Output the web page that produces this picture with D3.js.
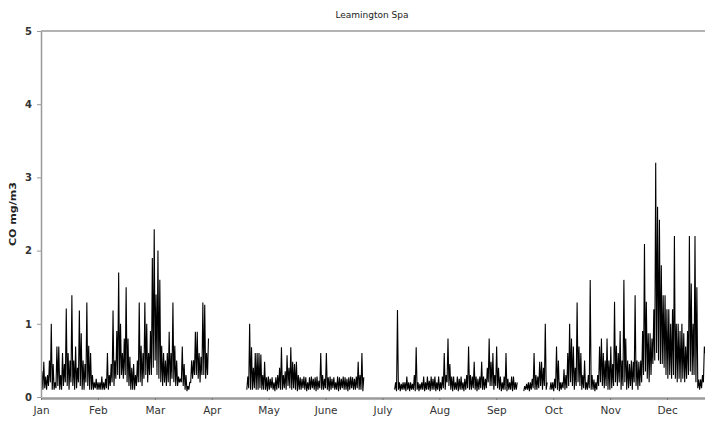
<!DOCTYPE html>
<html>
<head>
<meta charset="utf-8">
<script src="https://cdn.jsdelivr.net/npm/d3@7"></script>
<style>
  body { margin: 0; background: #fff; }
  svg { display: block; }
</style>
</head>
<body>
<svg id="chart" width="705" height="421"></svg>
<script>
// Carbon monoxide, Leamington Spa: daily low / high readings (mg/m3), one pair per day.
// null marks days with no data.
const monthLabels = ["Jan", "Feb", "Mar", "Apr", "May", "June", "July", "Aug", "Sep", "Oct", "Nov", "Dec"];
const monthDays = [31, 28, 31, 30, 31, 30, 31, 31, 30, 31, 30, 31];
const yTicks = [0, 1, 2, 3, 4, 5];

const janHigh = [0.35,0.48,0.28,0.3,0.5,1.0,0.45,0.2,0.69,0.69,0.3,0.6,0.45,1.21,0.6,0.5,1.39,0.5,0.69,0.4,1.18,0.87,0.5,0.45,1.29,0.7,0.6,0.3,0.2,0.25,0.2];
const janLow  = [0.1,0.1,0.12,0.1,0.15,0.2,0.1,0.1,0.12,0.15,0.1,0.1,0.15,0.2,0.15,0.1,0.2,0.15,0.1,0.12,0.2,0.15,0.1,0.1,0.2,0.15,0.1,0.1,0.1,0.12,0.1];

const febHigh = [0.2,0.28,0.2,0.25,0.6,0.3,0.45,1.18,0.5,0.9,1.7,1.0,0.6,0.8,1.5,0.8,0.55,0.4,0.45,0.3,0.5,1.29,0.7,0.6,1.29,1.0,0.6,0.9];
const febLow  = [0.1,0.1,0.1,0.1,0.12,0.1,0.15,0.2,0.15,0.25,0.3,0.25,0.3,0.25,0.3,0.2,0.15,0.1,0.1,0.1,0.15,0.2,0.2,0.15,0.25,0.3,0.2,0.3];

const marHigh = [1.9,2.29,1.4,2.0,1.6,0.7,0.6,0.5,0.6,0.89,0.6,1.29,0.7,0.5,0.28,0.25,0.69,0.45,0.3,0.15,0.2,0.5,0.5,0.89,0.89,0.6,0.55,1.29,1.26,0.6,0.8];
const marLow  = [0.3,0.4,0.5,0.3,0.25,0.2,0.15,0.2,0.15,0.2,0.15,0.25,0.2,0.15,0.15,0.2,0.2,0.15,0.1,0.08,0.1,0.2,0.25,0.3,0.3,0.25,0.2,0.3,0.3,0.25,0.3];

const aprHigh = [null,null,null,null,null,null,null,null,null,null,null,null,null,null,null,null,null,null,null,null,0.28,1.0,0.68,0.4,0.6,0.6,0.6,0.58,0.3,0.48];
const aprLow  = [null,null,null,null,null,null,null,null,null,null,null,null,null,null,null,null,null,null,null,null,0.1,0.12,0.1,0.1,0.12,0.1,0.1,0.12,0.1,0.1];

const mayHigh = [0.27,0.28,0.25,0.27,0.2,0.27,0.3,0.4,0.68,0.3,0.35,0.57,0.4,0.68,0.48,0.45,0.48,0.3,0.27,0.25,0.28,0.27,0.2,0.27,0.28,0.25,0.27,0.28,0.22,0.6,0.3];
const mayLow  = [0.1,0.08,0.1,0.12,0.1,0.08,0.1,0.12,0.1,0.1,0.12,0.1,0.15,0.12,0.1,0.12,0.1,0.08,0.1,0.1,0.12,0.1,0.08,0.1,0.1,0.12,0.1,0.08,0.1,0.12,0.1];

const junHigh = [0.25,0.6,0.27,0.28,0.25,0.27,0.2,0.28,0.27,0.25,0.28,0.27,0.25,0.27,0.28,0.27,0.25,0.28,0.48,0.3,0.6,0.27,null,null,null,null,null,null,null,null];
const junLow  = [0.1,0.12,0.1,0.08,0.1,0.12,0.1,0.1,0.08,0.1,0.12,0.1,0.1,0.08,0.1,0.12,0.1,0.1,0.12,0.1,0.1,0.08,null,null,null,null,null,null,null,null];

const julHigh = [null,null,null,null,null,null,null,null,0.2,1.19,0.2,0.18,0.2,0.2,0.28,0.2,0.2,0.18,0.3,0.68,0.2,0.18,0.2,0.28,0.2,0.28,0.22,0.28,0.25,0.28,0.2];
const julLow  = [null,null,null,null,null,null,null,null,0.1,0.08,0.1,0.08,0.1,0.1,0.08,0.1,0.08,0.1,0.1,0.08,0.1,0.08,0.1,0.1,0.08,0.1,0.1,0.08,0.1,0.1,0.08];

const augHigh = [0.28,0.2,0.28,0.6,0.3,0.8,0.45,0.28,0.28,0.2,0.28,0.25,0.28,0.2,0.25,0.3,0.69,0.3,0.28,0.48,0.28,0.25,0.28,0.48,0.28,0.25,0.4,0.8,0.48,0.6,0.3];
const augLow  = [0.1,0.08,0.1,0.12,0.1,0.2,0.15,0.1,0.08,0.1,0.1,0.08,0.1,0.1,0.08,0.1,0.12,0.1,0.1,0.12,0.1,0.08,0.1,0.12,0.1,0.1,0.12,0.2,0.15,0.15,0.1];

const sepHigh = [0.69,0.4,0.28,0.2,0.28,0.6,0.25,0.2,0.28,0.28,0.2,0.2,null,null,null,0.15,0.18,0.2,0.2,0.25,0.6,0.3,0.28,0.48,0.48,0.4,1.0,0.2,null,0.2];
const sepLow  = [0.15,0.12,0.1,0.08,0.1,0.1,0.08,0.1,0.1,0.08,0.1,0.1,null,null,null,0.08,0.1,0.1,0.08,0.1,0.12,0.1,0.1,0.12,0.15,0.1,0.15,0.1,null,0.1];

const octHigh = [0.2,0.25,0.69,0.5,0.2,0.2,0.38,0.3,0.6,1.0,0.8,0.69,0.4,1.29,0.69,0.6,0.3,0.5,0.2,0.3,1.6,0.3,0.24,0.2,0.3,0.69,0.8,0.6,0.5,0.8,0.5];
const octLow  = [0.1,0.08,0.12,0.1,0.08,0.1,0.12,0.1,0.12,0.15,0.2,0.15,0.1,0.15,0.2,0.15,0.1,0.12,0.1,0.1,0.12,0.1,0.1,0.08,0.1,0.15,0.2,0.15,0.12,0.15,0.1];

const novHigh = [0.69,0.45,1.3,0.7,0.6,0.9,0.5,1.6,0.8,0.5,0.45,0.5,0.48,1.39,0.5,0.48,0.5,0.9,2.09,1.3,0.87,0.87,0.8,1.2,3.2,2.6,2.42,1.8,1.39,1.39];
const novLow  = [0.1,0.12,0.15,0.2,0.15,0.2,0.1,0.15,0.2,0.1,0.12,0.15,0.1,0.2,0.15,0.1,0.15,0.2,0.3,0.35,0.25,0.2,0.3,0.45,0.5,0.6,0.5,0.45,0.45,0.4];

const decHigh = [1.2,1.2,1.0,1.2,2.2,1.0,1.0,0.9,1.0,0.87,0.69,0.9,2.2,1.55,1.0,2.2,1.5,0.24,0.24,0.3,0.69,0.65];
const decLow  = [0.3,0.25,0.3,0.25,0.3,0.25,0.2,0.25,0.2,0.25,0.2,0.25,0.3,0.35,0.3,0.3,0.2,0.12,0.1,0.12,0.2,0.6];

const dailyHigh = [janHigh, febHigh, marHigh, aprHigh, mayHigh, junHigh, julHigh, augHigh, sepHigh, octHigh, novHigh, decHigh];
const dailyLow  = [janLow, febLow, marLow, aprLow, mayLow, junLow, julLow, augLow, sepLow, octLow, novLow, decLow];

// Flatten to a half-daily trace: low at the start of each day, high at midday.
const readings = [];
let dayIndex = 0;
monthDays.forEach((n, m) => {
  for (let i = 0; i < n; i++, dayIndex++) {
    if (i >= dailyHigh[m].length) continue;
    readings.push({ hour: dayIndex * 24, v: dailyLow[m][i] });
    readings.push({ hour: dayIndex * 24 + 12, v: dailyHigh[m][i] });
  }
});

const svg = d3.select("#chart");
const hoursInYear = 8760;
const x = d3.scaleLinear().domain([0, hoursInYear]).range([41, 724]);
const y = d3.scaleLinear().domain([0, 5]).range([397, 31]);
const axisGrey = "#9a9a9a";
const font = "'DejaVu Sans', Verdana, sans-serif";

// Title
svg.append("text")
  .attr("x", 372).attr("y", 18)
  .attr("text-anchor", "middle")
  .attr("font-family", font).attr("font-size", 9)
  .attr("fill", "#222")
  .text("Leamington Spa");

// Y axis title
svg.append("text")
  .attr("transform", "translate(16,214) rotate(-90)")
  .attr("text-anchor", "middle")
  .attr("font-family", font).attr("font-size", 9).attr("font-weight", "bold")
  .attr("fill", "#222")
  .attr("textLength", 64).attr("lengthAdjust", "spacingAndGlyphs")
  .text("CO mg/m3");

// Series
svg.append("clipPath").attr("id", "plotClip")
  .append("rect").attr("x", 41).attr("y", 20).attr("width", 683).attr("height", 378);

const line = d3.line()
  .defined(d => d.v !== null)
  .x(d => x(d.hour))
  .y(d => y(d.v));

svg.append("path")
  .datum(readings)
  .attr("clip-path", "url(#plotClip)")
  .attr("fill", "none")
  .attr("stroke", "#000")
  .attr("stroke-width", 1.1)
  .attr("d", line);

// Top frame line
svg.append("line")
  .attr("x1", x(0)).attr("x2", x(hoursInYear))
  .attr("y1", y(5)).attr("y2", y(5))
  .attr("stroke", axisGrey).attr("stroke-width", 1.5);

// Y axis
const yAxis = svg.append("g")
  .attr("transform", `translate(${x(0)},0)`)
  .call(d3.axisLeft(y).tickValues(yTicks).tickFormat(d3.format("d")).tickSize(4).tickSizeOuter(0).tickPadding(5));
yAxis.select(".domain").attr("stroke", axisGrey).attr("stroke-width", 1.5);
yAxis.selectAll(".tick line").attr("stroke", axisGrey);
yAxis.selectAll("text")
  .attr("font-family", font).attr("font-size", 10).attr("font-weight", "bold")
  .attr("fill", "#333");

// X axis
const monthTicks = monthLabels.map((_, i) => i * hoursInYear / 12);
const xAxis = svg.append("g")
  .attr("transform", `translate(0,${y(0) + 1})`)
  .call(d3.axisBottom(x).tickValues(monthTicks).tickFormat((d, i) => monthLabels[i]).tickSize(2).tickSizeOuter(0).tickPadding(7));
xAxis.select(".domain").attr("stroke", axisGrey).attr("stroke-width", 2.5);
xAxis.selectAll(".tick line").attr("stroke", "#777");
xAxis.selectAll("text")
  .attr("font-family", font).attr("font-size", 10.5)
  .attr("fill", "#333");
</script>
</body>
</html>
